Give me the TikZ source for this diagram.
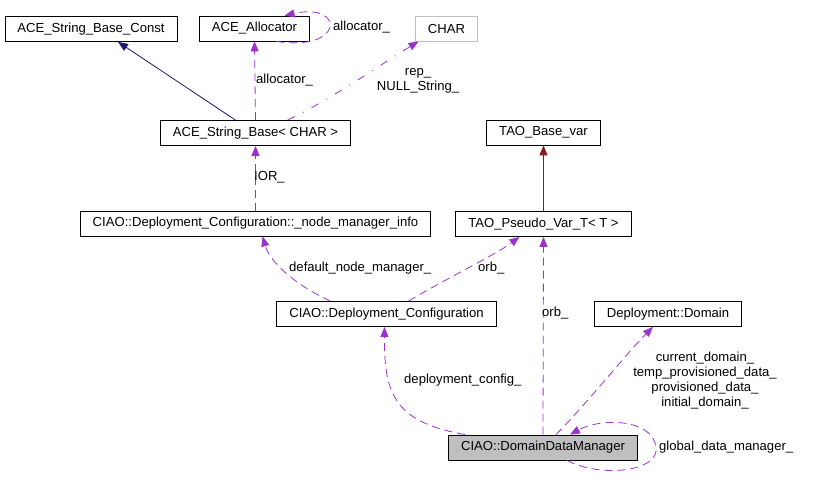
\documentclass[tikz,border=0pt]{standalone}
\usepackage{fontspec}
\setmainfont{Liberation Sans}
\usetikzlibrary{arrows.meta}

\definecolor{usecol}{HTML}{9A32CD}
\definecolor{basecol}{HTML}{191970}
\definecolor{varcol}{HTML}{8B1A1A}
\definecolor{greycol}{HTML}{BFBFBF}

\begin{document}
\begin{tikzpicture}[x=1pt, y=-1pt, every node/.style={font=\fontsize{13.1}{15}\selectfont},
    cls/.style={rectangle, draw, line width=0.8pt, minimum height=25pt, inner xsep=12.5pt, inner ysep=0pt},
    member/.style={-{Triangle[length=10pt, width=8pt]}, usecol, line width=0.8pt, dash pattern=on 8pt off 5pt},
    tmpl/.style={-{Triangle[length=10pt, width=8pt]}, usecol, line width=0.8pt, dash pattern=on 8pt off 9pt on 1pt off 9pt},
    inherit/.style={-{Triangle[length=10pt, width=8pt]}, line width=0.8pt},
    lbl/.style={inner sep=0pt, align=center}]

    \useasboundingbox (0,0) rectangle (821,484);

    \node[cls] (const) at (91,29) {ACE\_String\_Base\_Const};
    \node[cls] (alloc) at (254.5,28.5) {ACE\_Allocator};
    \node[cls, draw=greycol] (char) at (446.5,28.5) {CHAR};
    \node[cls] (base) at (255.5,133) {ACE\_String\_Base< CHAR >};
    \node[cls] (taobase) at (543.5,132.5) {TAO\_Base\_var};
    \node[cls] (nmi) at (255.5,223.5) {CIAO::Deployment\_Configuration::\_node\_manager\_info};
    \node[cls] (pseudo) at (543.5,224) {TAO\_Pseudo\_Var\_T< T >};
    \node[cls] (dconf) at (386.5,314) {CIAO::Deployment\_Configuration};
    \node[cls] (domain) at (668,314) {Deployment::Domain};
    \node[cls, fill=greycol] (ddm) at (543,447.5) {CIAO::DomainDataManager};

    % inheritance
    \draw[inherit, basecol] ([xshift=-20pt]base.north) -- ([xshift=27pt]const.south);
    \draw[inherit, varcol] (pseudo.north) -- (taobase.south);

    % members
    \draw[member] (base.north) -- (alloc.south);
    \node[lbl, anchor=west] (lalloc) at (256,80) {allocator\_};
    \draw[member] ([xshift=22pt]alloc.south) .. controls (345,52) and (345,2) .. ([xshift=30pt]alloc.north);
    \node[lbl, anchor=west] (lself) at (333,27) {allocator\_};
    \draw[tmpl] ([xshift=32pt]base.north) .. controls (330,100) and (380,65) .. ([xshift=-28pt]char.south);
    \node[lbl] (lrep) at (418,80.5) {rep\_\\NULL\_String\_};

    \draw[member] (nmi.north) -- (base.south);
    \node[lbl, anchor=west] (lior) at (254,177) {IOR\_};

    \draw[member] ([xshift=-56pt]dconf.north) .. controls (295,285) and (270,262) .. ([xshift=7pt]nmi.south);
    \node[lbl, anchor=west] (ldnm) at (289,268) {default\_node\_manager\_};
    \draw[member] ([xshift=22pt]dconf.north) .. controls (440,282) and (495,255) .. ([xshift=-24pt]pseudo.south);
    \node[lbl, anchor=west] (lorb) at (478,268) {orb\_};

    \draw[member] ([xshift=-78pt]ddm.north) .. controls (395,422) and (384,395) .. ([xshift=-2pt]dconf.south);
    \node[lbl, anchor=west] (lcfg) at (404,380) {deployment\_config\_};
    \draw[member] (ddm.north) -- (pseudo.south);
    \node[lbl, anchor=west] (lorb2) at (542,313) {orb\_};
    \draw[member] ([xshift=13pt]ddm.north) .. controls (590,400) and (625,355) .. ([xshift=-15pt]domain.south);
    \node[lbl] (ldom) at (705,380.5) {current\_domain\_\\temp\_provisioned\_data\_\\provisioned\_data\_\\initial\_domain\_};
    \draw[member] ([xshift=24pt]ddm.south) .. controls (600,478) and (660,472) .. (656,447)
        .. controls (652,418) and (600,418) .. ([xshift=27pt]ddm.north);
    \node[lbl, anchor=west] (lgdm) at (659,447) {global\_data\_manager\_};
\end{tikzpicture}
\end{document}
